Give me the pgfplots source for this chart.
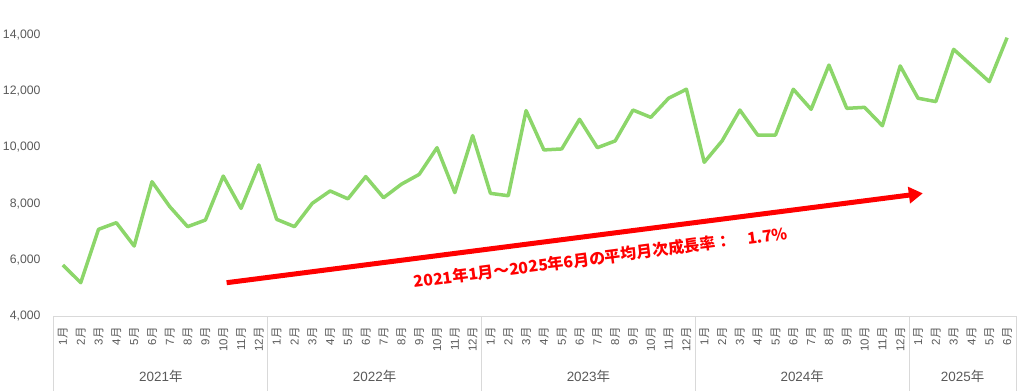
\documentclass[border=0pt]{standalone}
\usepackage{fontspec}
\setmainfont{Liberation Sans}
\newfontfamily\jp{Noto Sans CJK JP}
\usepackage{pgfplots}
\pgfplotsset{compat=1.18}
\usetikzlibrary{arrows.meta}
\definecolor{lgreen}{RGB}{140,214,106}
\definecolor{tgray}{RGB}{89,89,89}
\definecolor{lgray}{RGB}{217,217,217}
\newcommand\mo[1]{#1{\jp 月}}
\newcommand\yr[1]{#1{\jp 年}}
\begin{document}
\begin{tikzpicture}
\useasboundingbox (-54bp,-75bp) rectangle (970bp,316bp);
\begin{axis}[
 at={(0,0)}, anchor=south west, scale only axis,
 width=962bp, height=281bp,
 xmin=-0.5, xmax=53.5, ymin=4000, ymax=14000,
 clip=false,
 axis line style={draw=none},
 major tick length=0pt,
 ytick={4000,6000,...,14000},
 scaled y ticks=false,
 yticklabel={\pgfmathprintnumber[fixed,precision=0,1000 sep={,},assume math mode=true]{\tick}},
 yticklabel style={font=\fontsize{12.3}{14}\selectfont, text=tgray, xshift=-10bp},
 xtick={0,...,53},
 xticklabels={\mo1,\mo2,\mo3,\mo4,\mo5,\mo6,\mo7,\mo8,\mo9,\mo{10},\mo{11},\mo{12},
 \mo1,\mo2,\mo3,\mo4,\mo5,\mo6,\mo7,\mo8,\mo9,\mo{10},\mo{11},\mo{12},
 \mo1,\mo2,\mo3,\mo4,\mo5,\mo6,\mo7,\mo8,\mo9,\mo{10},\mo{11},\mo{12},
 \mo1,\mo2,\mo3,\mo4,\mo5,\mo6,\mo7,\mo8,\mo9,\mo{10},\mo{11},\mo{12},
 \mo1,\mo2,\mo3,\mo4,\mo5,\mo6},
 xticklabel style={yshift=-8bp, rotate=90, anchor=east, font=\fontsize{11.5}{12}\selectfont, text=tgray},
]
\draw[lgray, line width=1bp] (axis cs:-0.5,4000) -- (axis cs:53.5,4000);
\draw[lgray, line width=1bp] (axis cs:-0.5,4000) -- ++(0bp,-75bp);
\draw[lgray, line width=1bp] (axis cs:11.5,4000) -- ++(0bp,-75bp);
\draw[lgray, line width=1bp] (axis cs:23.5,4000) -- ++(0bp,-75bp);
\draw[lgray, line width=1bp] (axis cs:35.5,4000) -- ++(0bp,-75bp);
\draw[lgray, line width=1bp] (axis cs:47.5,4000) -- ++(0bp,-75bp);
\draw[lgray, line width=1bp] (axis cs:53.5,4000) -- ++(0bp,-75bp);
\node[text=tgray, font=\fontsize{13.5}{14}\selectfont, yshift=-60bp] at (axis cs:5.5,4000) {\yr{2021}};
\node[text=tgray, font=\fontsize{13.5}{14}\selectfont, yshift=-60bp] at (axis cs:17.5,4000) {\yr{2022}};
\node[text=tgray, font=\fontsize{13.5}{14}\selectfont, yshift=-60bp] at (axis cs:29.5,4000) {\yr{2023}};
\node[text=tgray, font=\fontsize{13.5}{14}\selectfont, yshift=-60bp] at (axis cs:41.5,4000) {\yr{2024}};
\node[text=tgray, font=\fontsize{13.5}{14}\selectfont, yshift=-60bp] at (axis cs:50.5,4000) {\yr{2025}};
\addplot[lgreen, line width=3.5bp, line join=round, no marks] coordinates {
(0,5815) (1,5185) (2,7085) (3,7320) (4,6490) (5,8780) (6,7890) (7,7180) (8,7415) (9,8980) (10,7830) (11,9375)
(12,7440) (13,7180) (14,8010) (15,8450) (16,8170) (17,8960) (18,8210) (19,8690) (20,9040) (21,9990) (22,8390) (23,10420)
(24,8365) (25,8280) (26,11310) (27,9910) (28,9945) (29,11000) (30,9990) (31,10230) (32,11330) (33,11070) (34,11750) (35,12070)
(36,9470) (37,10230) (38,11330) (39,10440) (40,10440) (41,12070) (42,11355) (43,12930) (44,11390) (45,11425) (46,10770) (47,12900)
(48,11750) (49,11630) (50,13490) (51,12915) (52,12340) (53,13905)
};
\draw[red, line width=5bp, -{Triangle[length=14bp, width=16bp]}] (axis cs:9.19,5185) -- (axis cs:48.27,8365);
\node[rotate=7.4, text=red, font=\jp\bfseries\fontsize{16}{16}\selectfont] at (axis cs:30.2,6080) {2021年1月～2025年6月の平均月次成長率：　1.7\%};
\end{axis}
\end{tikzpicture}
\end{document}
